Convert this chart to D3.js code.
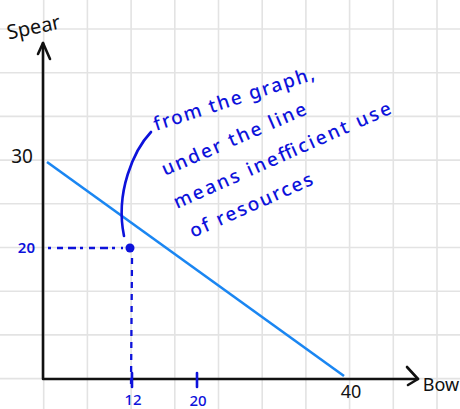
<!DOCTYPE html>
<html>
<head>
<meta charset="utf-8">
<script src="https://cdn.jsdelivr.net/npm/d3@7"></script>
<style>
  html, body { margin: 0; padding: 0; background: #fff; }
  svg { display: block; }
  text { font-family: "Noto Sans", "DejaVu Sans", sans-serif; }
</style>
</head>
<body>
<svg id="chart" width="460" height="409"></svg>
<script>
// ---- data ----
const xAxisTitle = "Bow";
const yAxisTitle = "Spear";
const ppfBow = [0, 40];
const ppfSpear = [30, 0];
const pointBow = [12];
const pointSpear = [20];
const xTickValues = [12, 20];
const xTickLabels = ["12", "20"];
const xEndLabel = ["40"];
const yTopLabel = ["30"];
const yPointLabel = ["20"];
const noteLines = ["from the graph,", "under the line", "means inefficient use", "of resources"];

// ---- scales (hand-drawn axis spacing) ----
const x = d3.scaleLinear().domain([0, 12, 20, 40]).range([45, 132, 197, 347]);
const y = d3.scaleLinear().domain([0, 20, 30]).range([379, 248, 161]);

const svg = d3.select("#chart");
const W = 460, H = 409, G = 43.7;
const blueLine = "#1a86f2";
const ink = "#0d12db";

// grid
const grid = svg.append("g").attr("stroke", "#e3e3e3").attr("stroke-width", 1.6);
grid.selectAll("line.v").data(d3.range(1, 11)).join("line")
  .attr("x1", d => d * G).attr("x2", d => d * G).attr("y1", 0).attr("y2", H);
grid.selectAll("line.h").data(d3.range(0, 10)).join("line")
  .attr("y1", d => 29 + d * G).attr("y2", d => 29 + d * G).attr("x1", 0).attr("x2", W);

// axes
const x0 = x(0) - 2, y0 = y(0);
const axes = svg.append("g").attr("stroke", "#111").attr("stroke-width", 2.6)
  .attr("fill", "none").attr("stroke-linecap", "round").attr("stroke-linejoin", "round");
axes.append("path").attr("d", `M${x0},43 L${x0},${y0} L418,${y0}`);
axes.append("path").attr("d", `M38,54 L${x0},43 L50,59`);
axes.append("path").attr("d", `M407,367 L418,${y0} L408,385`);

// PPF line
svg.append("line")
  .attr("x1", x(ppfBow[0]) + 2).attr("y1", y(ppfSpear[0]) + 1)
  .attr("x2", x(ppfBow[1]) - 3).attr("y2", y(ppfSpear[1]) - 3)
  .attr("stroke", blueLine).attr("stroke-width", 2.6);

// dashed guides to point
svg.append("line")
  .attr("x1", x(0) + 3).attr("x2", x(pointBow[0]) - 9)
  .attr("y1", y(pointSpear[0])).attr("y2", y(pointSpear[0]))
  .attr("stroke", ink).attr("stroke-width", 2.3).attr("stroke-dasharray", "3,6,6,5,8,4");
svg.append("line")
  .attr("x1", x(pointBow[0])).attr("x2", x(pointBow[0]) - 1)
  .attr("y1", y(pointSpear[0]) + 10).attr("y2", y(0) + 7)
  .attr("stroke", ink).attr("stroke-width", 2.3).attr("stroke-dasharray", "6,6");

// x ticks
svg.selectAll("line.xt").data(xTickValues).join("line")
  .attr("x1", d => x(d)).attr("x2", d => x(d))
  .attr("y1", y0 - 6).attr("y2", y0 + 8)
  .attr("stroke", ink).attr("stroke-width", 2.6).attr("stroke-linecap", "round");
svg.selectAll("text.xt").data(xTickValues).join("text")
  .attr("x", d => x(d) + 1).attr("y", (d, i) => i === 0 ? 405 : 406)
  .attr("text-anchor", "middle").attr("fill", ink)
  .attr("font-size", 15).attr("font-weight", 500)
  .text((d, i) => xTickLabels[i]);
svg.append("text").attr("x", x(40) + 4).attr("y", 398)
  .attr("text-anchor", "middle").attr("fill", "#111").attr("font-size", 18)
  .text(xEndLabel[0]);

// y labels
svg.append("text").attr("x", x0 - 10).attr("y", y(30) + 2)
  .attr("text-anchor", "end").attr("fill", "#111").attr("font-size", 19)
  .text(yTopLabel[0]);
svg.append("text").attr("x", x0 - 8).attr("y", y(20) + 5)
  .attr("text-anchor", "end").attr("fill", ink).attr("font-size", 15).attr("font-weight", 600)
  .text(yPointLabel[0]);

// point
svg.selectAll("circle.pt").data(pointBow).join("circle")
  .attr("cx", d => x(d) - 2).attr("cy", (d, i) => y(pointSpear[i]))
  .attr("r", 4.5).attr("fill", ink);

// axis titles
svg.append("text").attr("x", 441).attr("y", 391)
  .attr("text-anchor", "middle").attr("fill", "#111").attr("font-size", 18)
  .text(xAxisTitle);
svg.append("text").attr("transform", "translate(35,34) rotate(-12)")
  .attr("text-anchor", "middle").attr("fill", "#111").attr("font-size", 20)
  .text(yAxisTitle);

// annotation connector
const px = x(pointBow[0]), py = y(pointSpear[0]);
const cp = d3.path();
cp.moveTo(151, 132);
cp.bezierCurveTo(134, 150, 115, 192, px - 8, py - 12);
svg.append("path").attr("d", cp.toString())
  .attr("fill", "none").attr("stroke", ink).attr("stroke-width", 2.6).attr("stroke-linecap", "round");

// annotation text
const notePos = [
  {x: 156, y: 131, a: -18, len: 168},
  {x: 165, y: 176, a: -23.5, len: 156},
  {x: 177, y: 209, a: -24, len: 236},
  {x: 193, y: 238, a: -24, len: 133}
];
svg.selectAll("text.note").data(noteLines).join("text")
  .attr("class", "note")
  .attr("transform", (d, i) => `translate(${notePos[i].x},${notePos[i].y}) rotate(${notePos[i].a})`)
  .attr("fill", ink).attr("font-size", 19).attr("font-weight", 500)
  .attr("textLength", (d, i) => notePos[i].len).attr("lengthAdjust", "spacing")
  .text(d => d);
</script>
</body>
</html>
